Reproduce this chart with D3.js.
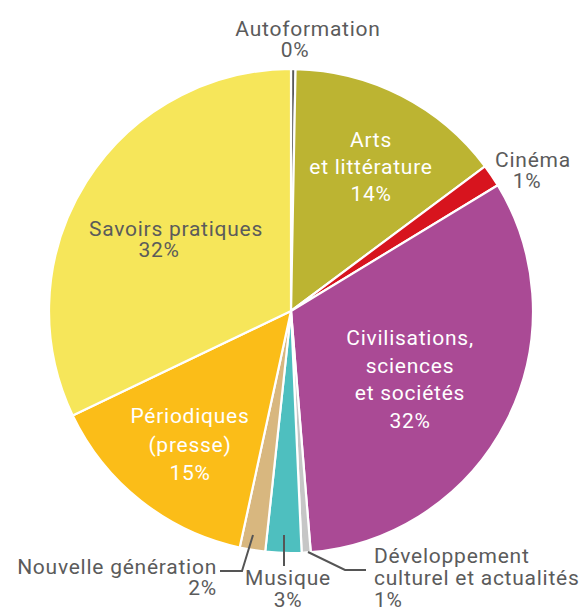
<!DOCTYPE html>
<html>
<head>
<meta charset="utf-8">
<script src="https://cdn.jsdelivr.net/npm/d3@7"></script>
<style>
  body { margin: 0; background: #fff; }
  text { font-family: Roboto, "DejaVu Sans", sans-serif; font-size: 21px; letter-spacing: 0.75px; }
</style>
</head>
<body>
<svg width="587" height="607"></svg>
<script>
// slices, clockwise from 12 o'clock
const categories = ["Autoformation", "Arts et littérature", "Cinéma", "Civilisations, sciences et sociétés",
  "Développement culturel et actualités", "Musique", "Nouvelle génération", "Périodiques (presse)", "Savoirs pratiques"];
const shares = [0.3, 14.5, 1.5, 32.4, 0.6, 2.4, 1.7, 14.5, 32.1];
const shownPct = ["0%", "14%", "1%", "32%", "1%", "3%", "2%", "15%", "32%"];
const labelLines = [
  ["Autoformation"],
  ["Arts", "et littérature"],
  ["Cinéma"],
  ["Civilisations,", "sciences", "et sociétés"],
  ["Développement", "culturel et actualités"],
  ["Musique"],
  ["Nouvelle génération"],
  ["Périodiques", "(presse)"],
  ["Savoirs pratiques"]
];
const colors = ["#5a5a5a", "#bcb432", "#d7141e", "#aa4a95", "#c6c6c6", "#4ebfbf", "#d8b77f", "#fbbd18", "#f6e65a"];

// label layout: anchor point, alignment, line height, text colour, leader elbow
const labelLayout = [
  { x: 308, y: 36, anchor: "middle", lh: 21, fill: "#5b5b5b", pctDx: -13 },
  { x: 371, y: 147, anchor: "middle", lh: 27, fill: "#fff" },
  { x: 533, y: 167, anchor: "middle", lh: 21, fill: "#5b5b5b", pctDx: -6 },
  { x: 410, y: 345, anchor: "middle", lh: 27.5, fill: "#fff" },
  { x: 374, y: 563, anchor: "start", lh: 22, fill: "#5b5b5b", leader: [[308, 552], [345, 570], [366, 570]] },
  { x: 288, y: 585, anchor: "middle", lh: 22, fill: "#5b5b5b", leader: [[284, 535], [284, 566]] },
  { x: 217, y: 574, anchor: "end", lh: 21, fill: "#5b5b5b", leader: [[253, 535], [242, 571], [220, 571]] },
  { x: 190, y: 423, anchor: "middle", lh: 28.5, fill: "#fff" },
  { x: 176, y: 236, anchor: "middle", lh: 21, fill: "#5b5b5b", pctDx: -17 }
];

const svg = d3.select("svg");
const cx = 291, cy = 311, R = 242;

const pie = d3.pie().sort(null).value(d => d)(shares);
const arc = d3.arc().innerRadius(0).outerRadius(R);

const g = svg.append("g").attr("transform", `translate(${cx},${cy})`);
g.selectAll("path")
  .data(pie)
  .join("path")
  .attr("d", arc)
  .attr("fill", (d, i) => colors[i])
  .attr("stroke", "#fff")
  .attr("stroke-width", 2.2)
  .attr("stroke-linejoin", "round");

const line = d3.line();
labelLayout.forEach((L, i) => {
  if (L.leader) {
    svg.append("path")
      .attr("d", line(L.leader))
      .attr("fill", "none")
      .attr("stroke", "#555")
      .attr("stroke-width", 2);
  }
  const lines = labelLines[i].concat([shownPct[i]]);
  const t = svg.append("text")
    .attr("text-anchor", L.anchor)
    .attr("fill", L.fill);
  lines.forEach((s, k) => {
    const last = k === lines.length - 1;
    t.append("tspan")
      .attr("x", L.x + (last && L.pctDx ? L.pctDx : 0))
      .attr("y", L.y + k * L.lh)
      .text(s);
  });
});
</script>
</body>
</html>
